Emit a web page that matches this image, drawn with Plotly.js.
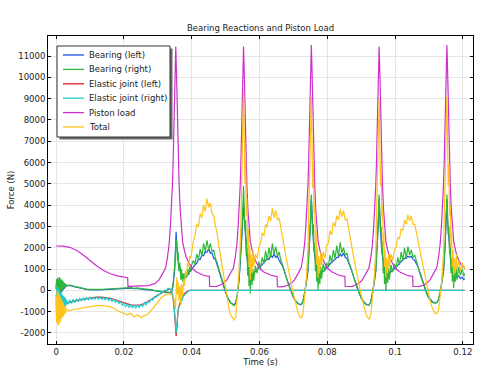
<!DOCTYPE html>
<html><head><meta charset="utf-8">
<script src="https://cdn.plot.ly/plotly-3.0.1.min.js"></script>
<style>html,body{margin:0;padding:0;background:#fff}#chart{width:481px;height:372px}</style>
</head><body><div id="chart"></div>
<script>
// ---------- series names / colours ----------
const seriesNames = ['Bearing (left)','Bearing (right)','Elastic joint (left)','Elastic joint (right)','Piston load','Total'];
const seriesColors = ['#1f55e6','#2eb83a','#e01e1e','#1ccfd0','#cc2fcc','#ffc31a'];

// ---------- axis ticks ----------
const xTickVals = [0,0.02,0.04,0.06,0.08,0.1,0.12];
const xTickText = ['0','0.02','0.04','0.06','0.08','0.1','0.12'];
const yTickVals = [-2000,-1000,0,1000,2000,3000,4000,5000,6000,7000,8000,9000,10000,11000];
const yTickText = ['-2000','-1000','0','1000','2000','3000','4000','5000','6000','7000','8000','9000','10000','11000'];

// ---------- bearings & total : time segments ----------
const tSegA = [0,0.00015,0.0003,0.00045,0.0006,0.00075,0.0009,0.00105,0.0012,0.00135,0.0015,0.00165,0.0018,0.00195,0.0021,0.00225,0.0024,0.00255,0.0027,0.00285,0.003];
const tSegB = [0.004,0.005,0.006,0.007,0.008,0.009,0.010,0.011,0.012,0.013,0.014,0.015,0.016,0.017,0.018,0.019,0.020,0.021,0.022,0.023,0.024,0.025,0.026,0.027,0.028,0.029,0.030];
const tSegC = [0.0305,0.031,0.0315,0.032,0.0325,0.033,0.0335,0.034,0.0345,0.035,0.0352,0.0354,0.0356,0.0358,0.036,0.0362,0.0365,0.0368,0.037,0.0373,0.0376,0.0379,0.0382,0.0385,0.0388,0.0391,0.0394,0.0397,0.040];
const tCyc1 = [0.0405,0.041,0.0415,0.042,0.0425,0.043,0.0435,0.044,0.0445,0.045,0.0455,0.046,0.0465,0.047,0.0475,0.048,0.0485,0.049,0.0495,0.050,0.0505,0.051,0.0515,0.052,0.0525,0.053,0.0535,0.054,0.0545,0.0548,0.0551,0.0553];
const tCyc2 = [0.0555,0.0557,0.0559,0.0561,0.0563,0.0565,0.0567,0.0569,0.0571,0.0573,0.0575,0.0578,0.0581,0.0583,0.0588,0.0593,0.0598,0.0603,0.0608,0.0613,0.0618,0.0623,0.0628,0.0633,0.0638,0.0643,0.0648,0.0653,0.0658,0.0663,0.0668,0.0673,0.0678,0.0683,0.0688,0.0693,0.0698,0.0703,0.0708,0.0713,0.0718,0.0723,0.0728,0.0733,0.0738,0.0743,0.0748,0.0751,0.0753];
const tCyc3 = [0.0755,0.0757,0.0759,0.0761,0.0763,0.0765,0.0767,0.0769,0.0771,0.0773,0.0775,0.0778,0.0781,0.0783,0.0788,0.0793,0.0798,0.0803,0.0808,0.0813,0.0818,0.0823,0.0828,0.0833,0.0838,0.0843,0.0848,0.0853,0.0858,0.0863,0.0868,0.0873,0.0878,0.0883,0.0888,0.0893,0.0898,0.0903,0.0908,0.0913,0.0918,0.0923,0.0928,0.0933,0.0938,0.0943,0.0948,0.0951,0.0953];
const tCyc4 = [0.0955,0.0957,0.0959,0.0961,0.0963,0.0965,0.0967,0.0969,0.0971,0.0973,0.0975,0.0978,0.0981,0.0983,0.0988,0.0993,0.0998,0.1003,0.1008,0.1013,0.1018,0.1023,0.1028,0.1033,0.1038,0.1043,0.1048,0.1053,0.1058,0.1063,0.1068,0.1073,0.1078,0.1083,0.1088,0.1093,0.1098,0.1103,0.1108,0.1113,0.1118,0.1123,0.1128,0.1133,0.1138,0.1143,0.1148,0.1151,0.1153];
const tEnd  = [0.1155,0.1157,0.1159,0.1161,0.1163,0.1165,0.1167,0.1169,0.1171,0.1173,0.1175,0.1178,0.1181,0.1183,0.1188,0.1193,0.1198,0.1203,0.1205];

// Bearing (left)
const bearingLeftA = [50,450,-350,500,-400,480,-250,550,-300,420,-150,450,-50,400,0,350,60,300,120,280,200];
const bearingLeftB = [230,185,145,105,75,45,25,15,15,25,35,45,60,70,80,90,100,95,105,75,85,60,50,30,10,-20,-40];
const bearingLeftC = [-40,-60,-60,-80,-100,-120,-120,-80,200,1000,1900,2750,2100,1500,1400,1000,1100,700,800,500,650,550,700,650,800,750,900,900,1000];
const bearingLeft1 = [1100,1200,1280,1450,1450,1650,1620,1800,1780,1950,1750,1750,1500,1450,1180,980,680,470,150,-100,-300,-450,-600,-630,-700,-580,-150,500,1500,2500,3600,4000];
const bearingLeft2 = [3400,2800,2300,1900,1600,1300,1100,900,800,700,780,720,820,800,880,980,1050,1150,1200,1300,1350,1500,1450,1650,1550,1700,1550,1600,1400,1300,1150,900,650,400,150,-50,-250,-420,-530,-620,-660,-680,-560,-200,300,900,2200,3300,4300];
const bearingLeft3 = [3300,2700,2300,1900,1600,1300,1100,950,800,720,760,740,800,820,900,950,1050,1100,1250,1300,1400,1450,1550,1550,1700,1600,1750,1550,1500,1300,1150,880,630,380,130,-80,-280,-440,-560,-640,-690,-700,-580,-220,280,880,2150,3250,4300];
const bearingLeft4 = [3300,2700,2250,1850,1550,1250,1050,900,780,700,740,720,790,800,870,930,1000,1080,1180,1250,1350,1400,1500,1500,1600,1550,1600,1450,1400,1250,1100,850,600,350,100,-100,-280,-420,-500,-560,-590,-570,-440,-140,300,880,2150,3250,4270];
const bearingLeftEnd = [3300,2700,2250,1850,1550,1250,1050,900,780,700,720,700,760,600,680,550,620,500,560];

// Bearing (right)
const bearingRightA = [100,520,-300,600,-350,550,-200,620,-250,480,-100,520,0,450,50,380,100,320,150,300,220];
const bearingRightB = [250,200,160,120,90,60,40,30,30,40,50,60,80,90,100,110,120,110,130,90,110,80,70,50,30,0,-20];
const bearingRightC = [-30,-50,-40,-60,-80,-100,-100,-50,300,1200,1900,2400,2300,1400,1800,900,1300,500,1000,400,800,500,900,600,1000,750,1100,900,1200];
const bearingRight1 = [1400,1250,1700,1450,1950,1600,2200,1800,2350,1900,2200,1800,1900,1500,1300,1000,750,450,200,-100,-300,-450,-600,-650,-720,-600,-150,600,1700,2800,4000,4900];
const bearingRight2 = [3800,2800,3300,1600,2400,700,1700,200,1400,-150,1100,250,1000,450,1150,800,1350,1000,1550,1250,1850,1400,2000,1550,2200,1700,2050,1600,1800,1400,1200,900,650,400,150,-50,-250,-400,-520,-600,-650,-660,-520,-150,350,1000,2400,3500,4500];
const bearingRight3 = [3500,2600,3100,1800,2200,900,1500,400,1200,0,900,300,1100,550,1250,900,1300,1100,1650,1300,1900,1500,2100,1600,2250,1750,2000,1650,1750,1350,1150,850,600,350,100,-100,-300,-450,-560,-640,-680,-700,-560,-180,330,950,2300,3400,4500];
const bearingRight4 = [3500,2700,3000,1700,2300,800,1500,300,1300,-50,1000,350,1050,500,1200,850,1250,1000,1550,1200,1800,1400,2000,1500,2050,1650,1900,1550,1650,1300,1100,800,550,300,50,-150,-330,-470,-540,-580,-600,-580,-420,-100,350,950,2300,3500,4500];
const bearingRightEnd = [3500,2600,3000,1700,2200,800,1500,400,1300,100,1000,400,1050,500,1100,700,1000,650,800];

// Total
const totalA = [-300,-1500,0,-1600,-100,-1650,-200,-1400,-300,-1500,-400,-1300,-500,-1250,-600,-1200,-700,-1100,-800,-1050,-900];
const totalB = [-950,-900,-870,-850,-830,-800,-770,-740,-720,-710,-720,-740,-780,-840,-950,-1020,-1090,-1150,-1080,-1250,-1150,-1280,-1200,-1120,-950,-750,-500];
const totalC = [-450,-350,-280,-220,-180,-150,-160,-200,-300,-500,-900,-300,600,-200,400,-500,200,-700,300,-300,500,200,900,700,1300,1100,1600,1500,1900];
const total1 = [2300,2600,3100,3000,3600,3400,4000,3700,4300,3900,4100,3600,3500,3000,2700,2100,1600,1100,500,0,-450,-850,-1150,-1250,-1400,-1250,-200,1000,3000,5500,8200,9400];
const total2 = [7200,5000,6200,3500,4300,2000,2900,1100,2100,500,1700,800,1900,1100,1700,1500,2000,2200,2700,2550,3100,2950,3500,3250,3850,3400,3750,3300,3400,2900,2500,2000,1600,1200,750,350,0,-350,-700,-1000,-1200,-1300,-1150,-300,500,1900,5000,7500,9100];
const total3 = [7000,4800,6000,3600,4100,2100,2800,1200,2000,600,1600,900,1800,1200,1800,1500,2100,2200,2800,2600,3200,3000,3500,3300,3800,3450,3750,3300,3350,2850,2450,1950,1550,1150,700,300,-50,-400,-750,-1050,-1250,-1350,-1200,-350,450,1800,4900,7400,9000];
const total4 = [7000,4900,5900,3500,4000,2000,2700,1100,1900,600,1500,800,1700,1100,1700,1400,1900,2000,2500,2400,2900,2800,3300,3100,3550,3250,3500,3100,3100,2700,2300,1800,1400,1000,600,200,-150,-450,-750,-950,-1080,-1100,-950,-300,450,1800,4900,7400,9100];
const totalEnd = [7000,4900,5900,3500,4000,2000,2700,1100,1900,700,1500,800,1700,1000,1400,900,1300,1000,1150];

// ---------- elastic joints ----------
const tJointLeftA = [0,0.0005,0.001,0.0015,0.002,0.0025,0.003];
const jointLeftA = [-550,-650,-580,-640,-600,-620,-600];
const tJointLeftB = [0.004,0.005,0.006,0.007,0.008,0.009,0.010,0.011,0.012,0.013,0.014,0.015,0.016,0.017,0.018,0.019,0.020,0.021,0.022,0.023,0.024,0.025,0.026,0.027,0.028,0.029,0.030,0.031,0.032,0.033];
const jointLeftB = [-570,-530,-490,-450,-410,-380,-350,-330,-320,-320,-330,-350,-380,-420,-470,-530,-590,-640,-680,-700,-700,-680,-620,-540,-440,-330,-220,-120,-40,30];
const tJointLeftC = [0.0335,0.034,0.0345,0.035,0.0352,0.0354,0.0356,0.0358,0.036,0.0365,0.037,0.0375,0.038,0.0385,0.039,0.0395,0.1205];
const jointLeftC = [60,0,-300,-1200,-1800,-2150,-1800,-1300,-900,-600,-400,-250,-130,-60,-20,0,0];

const tJointRightA = tSegA;
const jointRightA = [-200,-1300,200,-1400,100,-1500,0,-1300,-50,-1200,-100,-1100,-200,-1000,-250,-900,-300,-800,-350,-750,-450];
const tJointRightB = [0.0035,0.004,0.0045,0.005,0.0055,0.006,0.0065,0.007,0.0075,0.008,0.0085,0.009,0.0095,0.010,0.0105,0.011,0.0115,0.012,0.0125,0.013,0.0135,0.014,0.0145,0.015,0.0155,0.016,0.0165,0.017,0.0175,0.018,0.0185,0.019,0.0195,0.020,0.0205,0.021,0.0215,0.022,0.0225,0.023,0.0235,0.024,0.0245,0.025,0.0255,0.026,0.0265,0.027,0.0275,0.028,0.0285,0.029,0.0295,0.030,0.0305,0.031,0.0315,0.032,0.0325,0.033,0.0335];
const jointRightB = [-650,-450,-620,-420,-580,-400,-540,-380,-500,-360,-470,-340,-450,-330,-430,-320,-420,-310,-420,-320,-430,-330,-450,-350,-480,-380,-520,-420,-560,-480,-620,-540,-700,-600,-760,-650,-800,-680,-830,-700,-840,-690,-820,-660,-760,-590,-680,-510,-580,-410,-460,-300,-330,-190,-200,-80,-100,20,-20,100,50];
const tJointRightC = [0.034,0.0345,0.035,0.0352,0.0354,0.0356,0.0358,0.036,0.0365,0.037,0.0375,0.038,0.0385,0.039,0.0395,0.1205];
const jointRightC = [60,-350,-1100,-1700,-2000,-1700,-1100,-900,-700,-500,-300,-200,-100,-40,0,0];

// ---------- piston load ----------
const tPistonA = [0,0.002,0.004,0.006,0.008,0.010,0.012,0.014,0.016,0.018,0.020,0.0211,0.0212,0.0233,0.0253,0.0273,0.0293,0.0303,0.0313,0.0323,0.0328,0.0333,0.0337,0.034,0.0343,0.0345,0.0347,0.0349,0.0351,0.0353];
const pistonA = [2080,2075,2020,1880,1660,1400,1140,930,780,680,610,590,185,190,195,220,330,480,750,1050,1500,2100,3000,3800,4900,5900,7200,8800,10300,11450];
const tPiston1 = [0.0355,0.0357,0.0359,0.0361,0.0363,0.0366,0.0369,0.0373,0.0378,0.0383,0.0393,0.0403,0.0413,0.0423,0.0433,0.0443,0.0452,0.0453,0.0463,0.0473,0.0483,0.0493,0.0503,0.0513,0.0523,0.0528,0.0533,0.0537,0.054,0.0543,0.0545,0.0547,0.0549,0.0551,0.0553];
const piston1 = [10300,8800,7200,5900,4900,3800,3100,2300,1900,1600,1250,1000,870,780,720,680,660,180,170,190,240,330,480,750,1050,1500,2100,3000,3800,4900,5900,7200,8800,10300,11450];
const tPiston2 = [0.0555,0.0557,0.0559,0.0561,0.0563,0.0566,0.0569,0.0573,0.0578,0.0583,0.0593,0.0603,0.0613,0.0623,0.0633,0.0643,0.0652,0.0653,0.0663,0.0673,0.0683,0.0693,0.0703,0.0713,0.0723,0.0728,0.0733,0.0737,0.074,0.0743,0.0745,0.0747,0.0749,0.0751,0.0753];
const piston2 = [10250,8750,7150,5850,4850,3750,3100,2300,1900,1580,1240,990,860,780,720,680,650,170,160,185,235,330,480,760,1070,1520,2150,3050,3850,4950,5950,7250,8850,10350,11520];
const tPiston3 = [0.0755,0.0757,0.0759,0.0761,0.0763,0.0766,0.0769,0.0773,0.0778,0.0783,0.0793,0.0803,0.0813,0.0823,0.0833,0.0843,0.0852,0.0853,0.0863,0.0873,0.0883,0.0893,0.0903,0.0913,0.0923,0.0928,0.0933,0.0937,0.094,0.0943,0.0945,0.0947,0.0949,0.0951,0.0953];
const piston3 = [10350,8850,7250,5950,4950,3800,3100,2300,1900,1600,1250,1000,870,780,720,680,660,180,170,190,240,330,480,750,1050,1500,2100,3000,3800,4900,5900,7200,8800,10300,11450];
const tPiston4 = [0.0955,0.0957,0.0959,0.0961,0.0963,0.0966,0.0969,0.0973,0.0978,0.0983,0.0993,0.1003,0.1013,0.1023,0.1033,0.1043,0.1052,0.1053,0.1063,0.1073,0.1083,0.1093,0.1103,0.1113,0.1123,0.1128,0.1133,0.1137,0.114,0.1143,0.1145,0.1147,0.1149,0.1151,0.1153];
const piston4 = [10300,8800,7200,5900,4900,3800,3100,2300,1900,1600,1250,1000,870,780,720,680,660,180,170,190,240,330,480,760,1070,1520,2150,3050,3850,4950,5950,7250,8850,10350,11520];
const tPistonEnd = [0.1155,0.1157,0.1159,0.1161,0.1163,0.1166,0.1169,0.1173,0.1178,0.1183,0.1193,0.1203,0.1205];
const pistonEnd = [10350,8850,7250,5950,4950,3800,3100,2300,1900,1600,1250,1050,1020];

// ---------- assemble ----------
const tBear = [].concat(tSegA,tSegB,tSegC,tCyc1,tCyc2,tCyc3,tCyc4,tEnd);
const seriesX = [
  tBear,
  tBear,
  [].concat(tJointLeftA,tJointLeftB,tJointLeftC),
  [].concat(tJointRightA,tJointRightB,tJointRightC),
  [].concat(tPistonA,tPiston1,tPiston2,tPiston3,tPiston4,tPistonEnd),
  tBear
];
const seriesY = [
  [].concat(bearingLeftA,bearingLeftB,bearingLeftC,bearingLeft1,bearingLeft2,bearingLeft3,bearingLeft4,bearingLeftEnd),
  [].concat(bearingRightA,bearingRightB,bearingRightC,bearingRight1,bearingRight2,bearingRight3,bearingRight4,bearingRightEnd),
  [].concat(jointLeftA,jointLeftB,jointLeftC),
  [].concat(jointRightA,jointRightB,jointRightC),
  [].concat(pistonA,piston1,piston2,piston3,piston4,pistonEnd),
  [].concat(totalA,totalB,totalC,total1,total2,total3,total4,totalEnd)
];

const traces = seriesNames.map((n,i)=>({
  type:'scatter', mode:'lines', name:n, x:seriesX[i], y:seriesY[i],
  line:{color:seriesColors[i], width:1.2}, hoverinfo:'skip'
}));

// ---------- layout ----------
const M = {l:48, r:8, t:36, b:28};
const W = 481, H = 372;
const PW = W - M.l - M.r, PH = H - M.t - M.b;
const px2x = p => (p - M.l) / PW;
const py2y = p => (H - M.b - p) / PH;
const FONT = 'DejaVu Sans, Verdana, sans-serif';

const legBox = {x0:57, x1:170, y0:46, y1:137};
const shapes = [
  {type:'rect', xref:'paper', yref:'paper', layer:'above',
   x0:px2x(legBox.x0+2.5), x1:px2x(legBox.x1+2.5), y0:py2y(legBox.y1+2.5), y1:py2y(legBox.y0+2.5),
   fillcolor:'#6a6a6a', line:{width:0}},
  {type:'rect', xref:'paper', yref:'paper', layer:'above',
   x0:px2x(legBox.x0), x1:px2x(legBox.x1), y0:py2y(legBox.y1), y1:py2y(legBox.y0),
   fillcolor:'#ffffff', line:{color:'#333333', width:1}}
];
const annotations = [];
seriesNames.forEach((n,i)=>{
  const yy = 55 + 14.4*i;
  shapes.push({type:'line', xref:'paper', yref:'paper', layer:'above',
    x0:px2x(63), x1:px2x(84), y0:py2y(yy), y1:py2y(yy),
    line:{color:seriesColors[i], width:1.3}});
  annotations.push({xref:'paper', yref:'paper', x:px2x(86.5), y:py2y(yy),
    xanchor:'left', yanchor:'middle', showarrow:false, text:n,
    font:{family:FONT, size:8.5, color:'#222'}});
});

const axisCommon = {
  ticks:'inside', ticklen:3, tickwidth:1, tickcolor:'#000',
  showline:true, linecolor:'#000', linewidth:1, mirror:'ticks',
  showgrid:true, gridcolor:'#e6e6e6', gridwidth:1, zeroline:false,
  tickfont:{family:FONT, size:8.5, color:'#222'}, automargin:false, fixedrange:true
};

const layout = {
  width:W, height:H, margin:{l:M.l, r:M.r, t:M.t, b:M.b, pad:0},
  paper_bgcolor:'#fff', plot_bgcolor:'#fff',
  font:{family:FONT, size:8.5, color:'#222'},
  showlegend:false,
  title:{text:'Bearing Reactions and Piston Load', font:{family:FONT, size:8.5, color:'#222'},
         x:0.5, xref:'paper', y:1-28/H, yref:'container', yanchor:'middle'},
  xaxis:Object.assign({}, axisCommon, {range:[-0.0024,0.1230], tickmode:'array', tickvals:xTickVals, ticktext:xTickText,
         title:{text:'Time (s)', standoff:1, font:{family:FONT, size:8.5, color:'#222'}}}),
  yaxis:Object.assign({}, axisCommon, {range:[-2520,11940], tickmode:'array', tickvals:yTickVals, ticktext:yTickText,
         title:{text:'Force (N)', standoff:2, font:{family:FONT, size:8.5, color:'#222'}}}),
  shapes:shapes, annotations:annotations
};

Plotly.newPlot('chart', traces, layout, {staticPlot:true, displayModeBar:false});
</script>
</body></html>
